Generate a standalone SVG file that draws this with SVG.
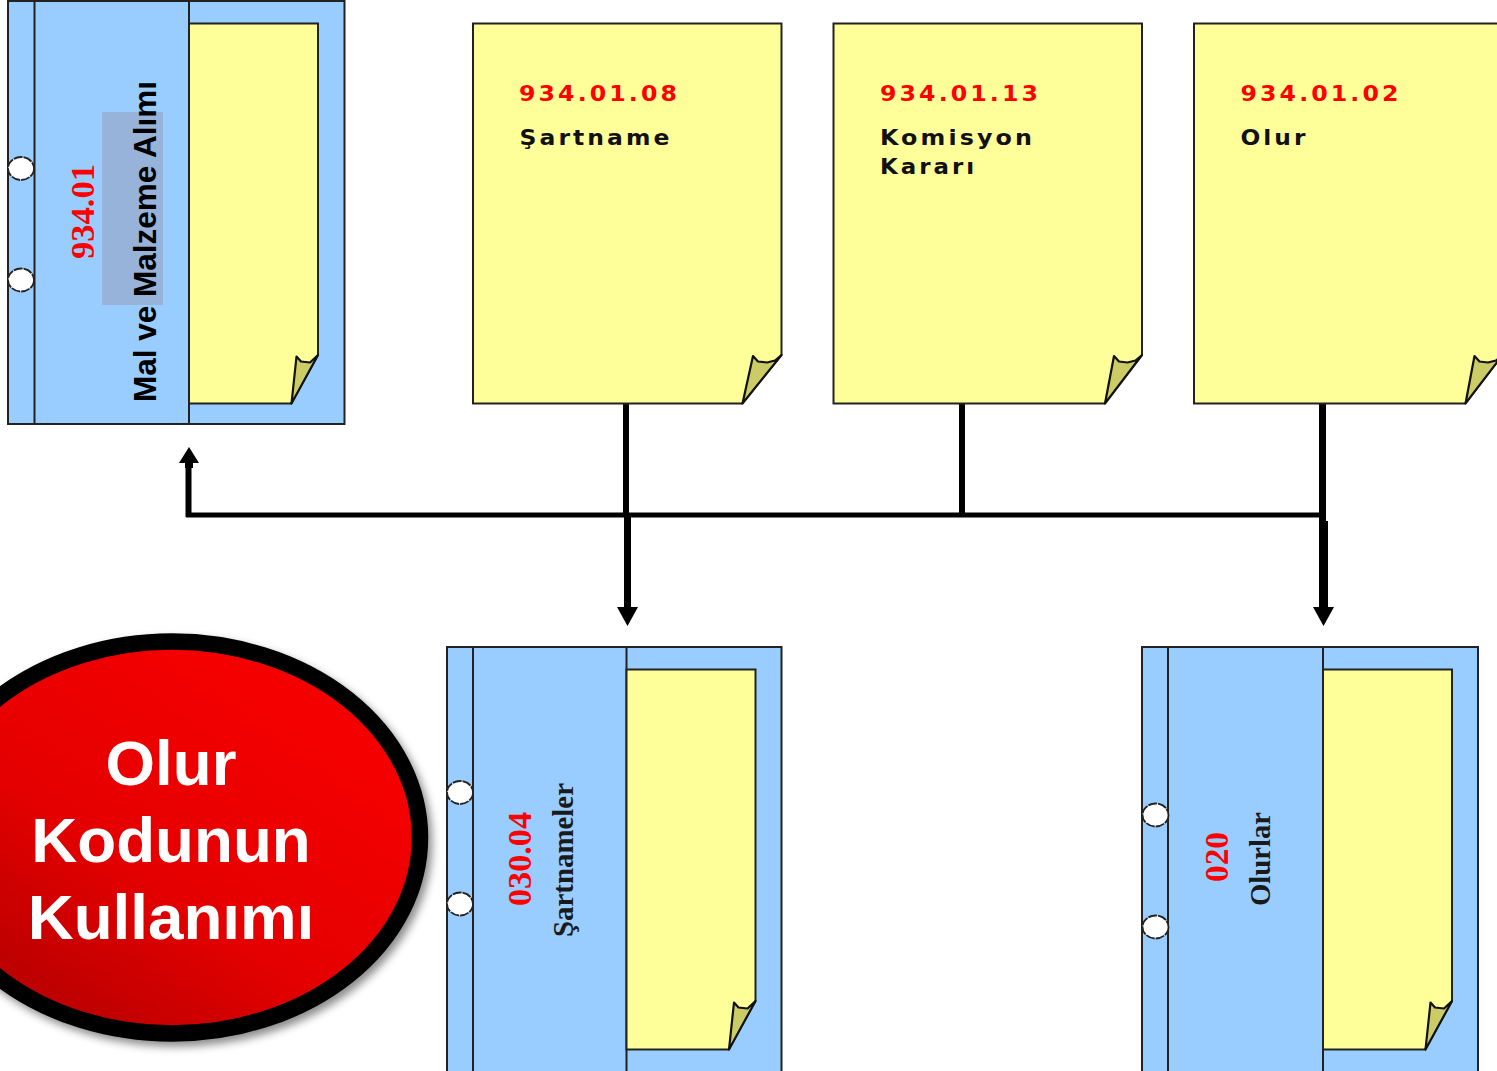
<svg xmlns="http://www.w3.org/2000/svg" width="1497" height="1071" viewBox="0 0 1497 1071">
<style>
.folder{fill:#99ccff;stroke:#222;stroke-width:2}
.spine{fill:none;stroke:#222;stroke-width:2}
.page{fill:#ffff99;stroke:#222;stroke-width:2;stroke-linejoin:miter}
.curl{fill:#cccc66;stroke:#111;stroke-width:2.200;stroke-linejoin:round}
.hole{fill:#fff;stroke:#222;stroke-width:1.800;stroke-dasharray:9 1}
.conn{fill:none;stroke:#000;stroke-linecap:butt}
.head{fill:#000}
.code{font-family:"DejaVu Sans",sans-serif;font-weight:bold;font-size:21.500px;letter-spacing:2.800px;fill:#ff0000}
.doc{font-family:"DejaVu Sans",sans-serif;font-weight:bold;font-size:21.500px;letter-spacing:2.800px;fill:#111}
.fcode{font-family:"Liberation Serif",serif;font-weight:bold;font-size:34.500px;fill:#ff0000}
.fname{font-family:"Liberation Serif",serif;font-weight:bold;font-size:30px;fill:#1a1a1a}
.big{font-family:"Liberation Sans",Arial,sans-serif;font-weight:bold;font-size:63.700px;fill:#fff;text-anchor:middle}
</style>
<defs>
<linearGradient id="red" x1="0.1" y1="1" x2="0.8" y2="0.2">
<stop offset="0" stop-color="#aa0000"/><stop offset="0.5" stop-color="#e40000"/><stop offset="1" stop-color="#f50000"/>
</linearGradient>
<filter id="sh" x="-10%" y="-10%" width="125%" height="125%">
<feDropShadow dx="4" dy="5" stdDeviation="4" flood-color="#000" flood-opacity="0.45"/>
</filter>
<g id="sheet">
<path class="page" d="M0 0H129V331.500L102 380H0Z"/>
<path class="curl" d="M102.500 380L107.500 333L112 338L121 339L129 331.500Z"/>
</g>
<g id="doc">
<path class="page" d="M0 0H308.500V331.500L271 380H0Z"/>
<path class="curl" d="M271.500 380L280.500 332.500L285.500 338L294 339L302 337L308.500 331.500Z"/>
</g>
<g id="doc1">
<path class="page" d="M0 0H308.500V331.500L269 380H0Z"/>
<path class="curl" d="M269.500 380L280 332.500L285 338L294 339L302 337L308.500 331.500Z"/>
</g>
</defs>

<g id="connectors">
<path class="conn" stroke-width="5" d="M186 515H1326"/>
<path class="conn" stroke-width="6" d="M626 402V515"/>
<path class="conn" stroke-width="6" d="M962 402V515"/>
<path class="conn" stroke-width="7" d="M1322.500 401V521"/>
<path class="conn" stroke-width="6" d="M188.500 517V458"/>
<path class="head" d="M189 447L199 463H193V468H185V463H179Z"/>
<path class="conn" stroke-width="7" d="M627.500 515V610"/>
<path class="head" d="M617 607H638L627.500 626Z"/>
<path class="conn" stroke-width="9" d="M1323.500 521V610"/>
<path class="head" d="M1313 607H1334L1323.500 626Z"/>
</g>

<g id="folder-93401">
<rect class="folder" x="8" y="1" width="336.500" height="423"/>
<path class="spine" d="M34.500 1V424M189 1V424"/>
<use href="#sheet" x="189" y="23.500"/>
<ellipse class="hole" cx="21" cy="168.500" rx="13" ry="11.500"/>
<ellipse class="hole" cx="21" cy="280" rx="13" ry="11.500"/>
<rect x="102" y="112" width="61" height="193" fill="#98b3d9"/>
<text class="fcode" transform="translate(94 259) rotate(-90)" textLength="95" lengthAdjust="spacingAndGlyphs">934.01</text>
<text transform="translate(156 402) rotate(-90)" font-family="'Liberation Sans',Arial,sans-serif" font-weight="bold" font-size="32" fill="#000" textLength="321" lengthAdjust="spacingAndGlyphs">Mal ve Malzeme Alımı</text>
</g>

<g id="doc-93401080"><use href="#doc1" x="473" y="23.500"/>
<text class="code" x="519" y="100.500" textLength="161" lengthAdjust="spacingAndGlyphs">934.01.08</text>
<text class="doc" x="519.500" y="145" textLength="153" lengthAdjust="spacingAndGlyphs">Şartname</text></g>

<g id="doc-93401130"><use href="#doc" x="833.500" y="23.500"/>
<text class="code" x="880" y="100.500" textLength="161" lengthAdjust="spacingAndGlyphs">934.01.13</text>
<text class="doc" x="880" y="145" textLength="155" lengthAdjust="spacingAndGlyphs">Komisyon</text>
<text class="doc" x="880" y="174" textLength="97" lengthAdjust="spacingAndGlyphs">Kararı</text></g>

<g id="doc-93401020"><use href="#doc" x="1194" y="23.500"/>
<text class="code" x="1240.500" y="100.500" textLength="161" lengthAdjust="spacingAndGlyphs">934.01.02</text>
<text class="doc" x="1240.500" y="145" textLength="68" lengthAdjust="spacingAndGlyphs">Olur</text></g>

<g id="folder-03004">
<rect class="folder" x="447" y="647" width="334.500" height="430"/>
<path class="spine" d="M473 647V1071M626.500 647V1071"/>
<use href="#sheet" x="626.500" y="669.500"/>
<ellipse class="hole" cx="460" cy="792.500" rx="13" ry="11.500"/>
<ellipse class="hole" cx="460" cy="904" rx="13" ry="11.500"/>
<text class="fcode" transform="translate(531 906) rotate(-90)" textLength="94" lengthAdjust="spacingAndGlyphs">030.04</text>
<text class="fname" transform="translate(573 937) rotate(-90)" textLength="154" lengthAdjust="spacingAndGlyphs">Şartnameler</text>
</g>

<g id="folder-020">
<rect class="folder" x="1142" y="647" width="336" height="430"/>
<path class="spine" d="M1168 647V1071M1323 647V1071"/>
<use href="#sheet" x="1323" y="669.500"/>
<ellipse class="hole" cx="1155.500" cy="815" rx="13" ry="11.500"/>
<ellipse class="hole" cx="1155.500" cy="927" rx="13" ry="11.500"/>
<text class="fcode" transform="translate(1228 882) rotate(-90)" textLength="50" lengthAdjust="spacingAndGlyphs">020</text>
<text class="fname" transform="translate(1270 906) rotate(-90)" textLength="94" lengthAdjust="spacingAndGlyphs">Olurlar</text>
</g>

<g id="badge">
<ellipse cx="172" cy="837.500" rx="248" ry="196" fill="url(#red)" stroke="#000" stroke-width="16.500" filter="url(#sh)"/>
<text class="big" x="171" y="785">Olur</text>
<text class="big" x="171" y="862">Kodunun</text>
<text class="big" x="171" y="939">Kullanımı</text>
</g>
</svg>
